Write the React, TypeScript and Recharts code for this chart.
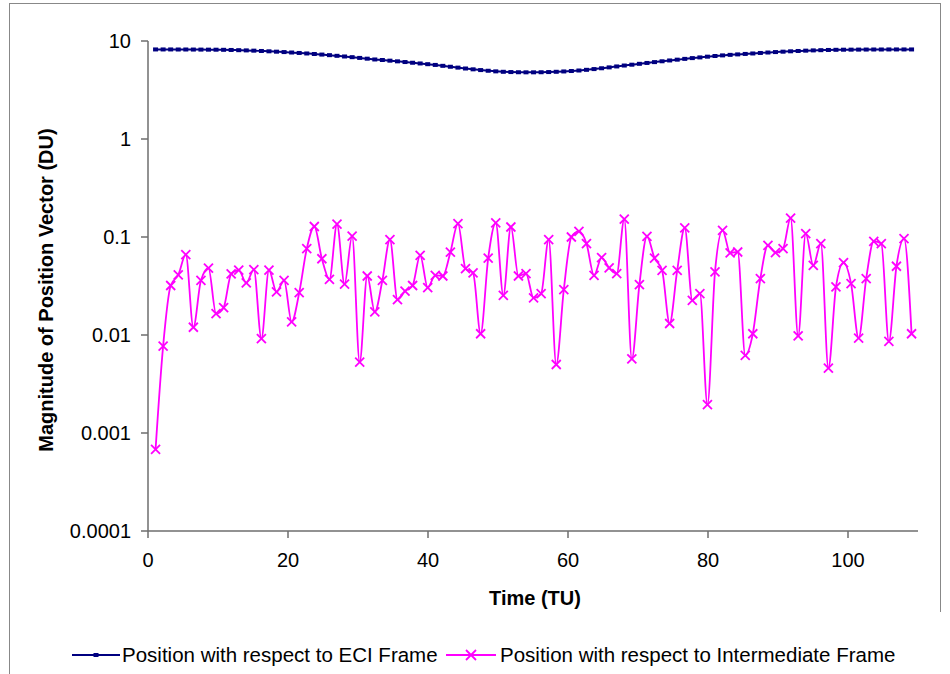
import { LineChart, Line, XAxis, YAxis } from 'recharts';

// time stamps (TU)
const times = [
  1.08, 2.16, 3.24, 4.32, 5.4, 6.48, 7.56, 8.64, 9.72, 10.8,
  11.88, 12.96, 14.04, 15.12, 16.2, 17.28, 18.36, 19.44, 20.52, 21.6,
  22.68, 23.76, 24.84, 25.92, 27, 28.08, 29.16, 30.24, 31.32, 32.4,
  33.48, 34.56, 35.64, 36.72, 37.8, 38.88, 39.96, 41.04, 42.12, 43.2,
  44.28, 45.36, 46.44, 47.52, 48.6, 49.68, 50.76, 51.84, 52.92, 54,
  55.08, 56.16, 57.24, 58.32, 59.4, 60.48, 61.56, 62.64, 63.72, 64.8,
  65.88, 66.96, 68.04, 69.12, 70.2, 71.28, 72.36, 73.44, 74.52, 75.6,
  76.68, 77.76, 78.84, 79.92, 81, 82.08, 83.16, 84.24, 85.32, 86.4,
  87.48, 88.56, 89.64, 90.72, 91.8, 92.88, 93.96, 95.04, 96.12, 97.2,
  98.28, 99.36, 100.44, 101.52, 102.6, 103.68, 104.76, 105.84, 106.92, 108,
  109.08,
];

// |r| in ECI frame (DU)
const eciValues = [
  8.2, 8.2, 8.2, 8.19, 8.19, 8.18, 8.17, 8.16, 8.15, 8.13,
  8.1, 8.06, 8.02, 7.97, 7.91, 7.85, 7.78, 7.71, 7.63, 7.55,
  7.46, 7.37, 7.27, 7.17, 7.06, 6.95, 6.84, 6.72, 6.6, 6.48,
  6.4, 6.3, 6.2, 6.1, 6.0, 5.9, 5.8, 5.7, 5.58, 5.46,
  5.35, 5.24, 5.14, 5.05, 4.97, 4.9, 4.85, 4.82, 4.8, 4.79,
  4.79, 4.8, 4.82, 4.85, 4.89, 4.94, 5.0, 5.08, 5.17, 5.27,
  5.38, 5.5, 5.62, 5.73, 5.85, 5.97, 6.09, 6.21, 6.33, 6.45,
  6.57, 6.69, 6.8, 6.92, 7.03, 7.13, 7.22, 7.3, 7.38, 7.46,
  7.55, 7.63, 7.71, 7.78, 7.85, 7.91, 7.97, 8.02, 8.06, 8.1,
  8.13, 8.15, 8.16, 8.17, 8.18, 8.19, 8.19, 8.2, 8.2, 8.2,
  8.2,
];

// |r| in intermediate frame (DU)
const interValues = [
  0.00068, 0.0077, 0.032, 0.041, 0.066, 0.012, 0.036, 0.048, 0.0165, 0.019,
  0.042, 0.046, 0.034, 0.0465, 0.0092, 0.046, 0.0275, 0.036, 0.0136, 0.027,
  0.076, 0.128, 0.06, 0.037, 0.135, 0.033, 0.102, 0.0053, 0.04, 0.0172,
  0.036, 0.094, 0.023, 0.028, 0.032, 0.065, 0.0305, 0.0406, 0.04, 0.07,
  0.137, 0.0476, 0.043, 0.0103, 0.061, 0.139, 0.0254, 0.1265, 0.04, 0.0423,
  0.0239, 0.0264, 0.094, 0.005, 0.029, 0.1, 0.114, 0.0857, 0.0406, 0.0617,
  0.0483, 0.0423, 0.152, 0.0057, 0.0327, 0.1016, 0.061, 0.0457, 0.0131, 0.0457,
  0.1236, 0.0226, 0.0264, 0.00195, 0.044, 0.117, 0.0687, 0.0703, 0.0062, 0.0103,
  0.0377, 0.0823, 0.0694, 0.0762, 0.156, 0.0098, 0.1083, 0.0514, 0.0857, 0.0046,
  0.0309, 0.0548, 0.0334, 0.0093, 0.0377, 0.0904, 0.0857, 0.0086, 0.0503, 0.0964,
  0.0103,
];

const xTicks = [0, 20, 40, 60, 80, 100];
const yTicks = [0.0001, 0.001, 0.01, 0.1, 1, 10];

const data = times.map((t, i) => ({ t, eci: eciValues[i], inter: interValues[i] }));

const NAVY = '#000080';
const MAGENTA = '#FF00FF';
const FONT = '"Liberation Sans", Arial, sans-serif';

const SquareDot = (props: any) => {
  const { cx, cy } = props;
  if (cx == null || cy == null) return null;
  return <rect x={cx - 2.5} y={cy - 2} width={5} height={4} fill={NAVY} />;
};

const CrossDot = (props: any) => {
  const { cx, cy } = props;
  if (cx == null || cy == null) return null;
  const r = 4.5;
  return (
    <g stroke={MAGENTA} strokeWidth={1.8}>
      <line x1={cx - r} y1={cy - r} x2={cx + r} y2={cy + r} />
      <line x1={cx - r} y1={cy + r} x2={cx + r} y2={cy - r} />
    </g>
  );
};

export default function App() {
  return (
    <div style={{ position: 'absolute', left: 0, top: 0, width: 950, height: 674, background: '#fff', fontFamily: FONT, overflow: 'hidden' }}>
      {/* chart frame */}
      <div style={{ position: 'absolute', left: 9, top: 3, width: 930, height: 700, borderLeft: '1px solid #888', borderTop: '1px solid #888' }} />
      <div style={{ position: 'absolute', left: 940, top: 3, width: 0, height: 609, borderLeft: '1px solid #888' }} />

      <div style={{ position: 'absolute', left: 0, top: 0 }}>
        <LineChart width={950} height={674} data={data} margin={{ top: 41, right: 32, bottom: 103, left: 68 }}>
          <XAxis
            dataKey="t"
            type="number"
            domain={[0, 110]}
            ticks={xTicks}
            tickSize={7}
            tickMargin={15}
            height={40}
            stroke="#6e6e6e"
            strokeWidth={1.5}
            tick={{ fill: '#000', fontSize: 20, fontFamily: FONT }}
          />
          <YAxis
            scale="log"
            type="number"
            domain={[0.0001, 10]}
            ticks={yTicks}
            allowDataOverflow
            tickSize={7}
            tickMargin={10}
            width={80}
            stroke="#6e6e6e"
            strokeWidth={1.5}
            tick={{ fill: '#000', fontSize: 20, fontFamily: FONT }}
            tickFormatter={(v: number) => String(v)}
          />
          <Line
            dataKey="eci"
            stroke={NAVY}
            strokeWidth={2}
            type="monotone"
            dot={<SquareDot />}
            activeDot={false}
            isAnimationActive={false}
          />
          <Line
            dataKey="inter"
            stroke={MAGENTA}
            strokeWidth={1.8}
            type="monotone"
            dot={<CrossDot />}
            activeDot={false}
            isAnimationActive={false}
          />
        </LineChart>
      </div>

      {/* axis titles */}
      <div style={{ position: 'absolute', left: 46, top: 290, transform: 'translate(-50%, -50%) rotate(-90deg)', whiteSpace: 'nowrap', fontWeight: 'bold', fontSize: 20 }}>
        Magnitude of Position Vector (DU)
      </div>
      <div style={{ position: 'absolute', left: 535, top: 598, transform: 'translate(-50%, -50%)', whiteSpace: 'nowrap', fontWeight: 'bold', fontSize: 20 }}>
        Time (TU)
      </div>

      {/* legend */}
      <svg width={48} height={20} style={{ position: 'absolute', left: 72, top: 645 }}>
        <line x1={0} y1={10} x2={48} y2={10} stroke={NAVY} strokeWidth={2} />
        <rect x={21.5} y={8} width={5} height={4} fill={NAVY} />
      </svg>
      <div style={{ position: 'absolute', left: 122, top: 655, transform: 'translateY(-50%)', fontSize: 20.5, whiteSpace: 'nowrap' }}>
        Position with respect to ECI Frame
      </div>
      <svg width={50} height={20} style={{ position: 'absolute', left: 446, top: 645 }}>
        <line x1={0} y1={10} x2={50} y2={10} stroke={MAGENTA} strokeWidth={1.8} />
        <line x1={20} y1={5} x2={30} y2={15} stroke={MAGENTA} strokeWidth={1.8} />
        <line x1={20} y1={15} x2={30} y2={5} stroke={MAGENTA} strokeWidth={1.8} />
      </svg>
      <div style={{ position: 'absolute', left: 500, top: 655, transform: 'translateY(-50%)', fontSize: 20.5, whiteSpace: 'nowrap' }}>
        Position with respect to Intermediate Frame
      </div>
    </div>
  );
}
